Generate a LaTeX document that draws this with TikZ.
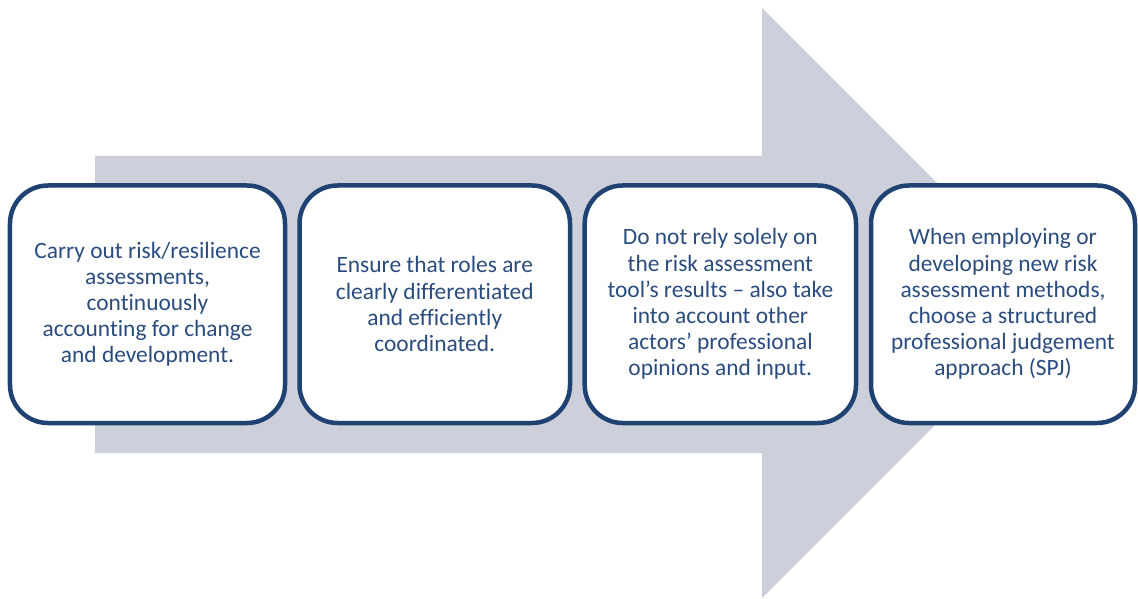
\documentclass[tikz,border=0pt]{standalone}
\usepackage{fontspec}
\setmainfont{Carlito}[Ligatures={NoCommon}]
\definecolor{arrowgray}{RGB}{205,208,218}
\definecolor{boxblue}{RGB}{31,66,114}
\definecolor{txtblue}{RGB}{43,76,126}
\tikzset{
  stepbox/.style={draw=boxblue, line width=4.5bp, fill=white, rounded corners=38bp,
    align=center, text=txtblue, inner sep=0pt,
    font=\fontsize{23.4bp}{26.2bp}\selectfont, minimum height=237.5bp}
}
\begin{document}
\begin{tikzpicture}[x=1bp,y=-1bp]
\useasboundingbox (0,0) rectangle (1138,599);
\fill[arrowgray] (95,156) -- (762,156) -- (762,8) -- (1057,303) -- (762,598) -- (762,453) -- (95,453) -- cycle;
\node[stepbox, minimum width=275bp] (box1) at (147.5,304.25)
  {Carry out risk/resilience\\assessments,\\continuously\\accounting for change\\and development.};
\node[stepbox, minimum width=270.5bp] (box2) at (434.75,304.25)
  {Ensure that roles are\\clearly differentiated\\and efficiently\\coordinated.};
\node[stepbox, minimum width=271.3bp] (box3) at (720.35,304.25)
  {Do not rely solely on\\the risk assessment\\tool’s results – also take\\into account other\\actors’ professional\\opinions and input.};
\node[stepbox, minimum width=264bp] (box4) at (1003,304.25)
  {When employing or\\developing new risk\\assessment methods,\\choose a structured\\professional judgement\\approach (SPJ)};
\end{tikzpicture}
\end{document}
